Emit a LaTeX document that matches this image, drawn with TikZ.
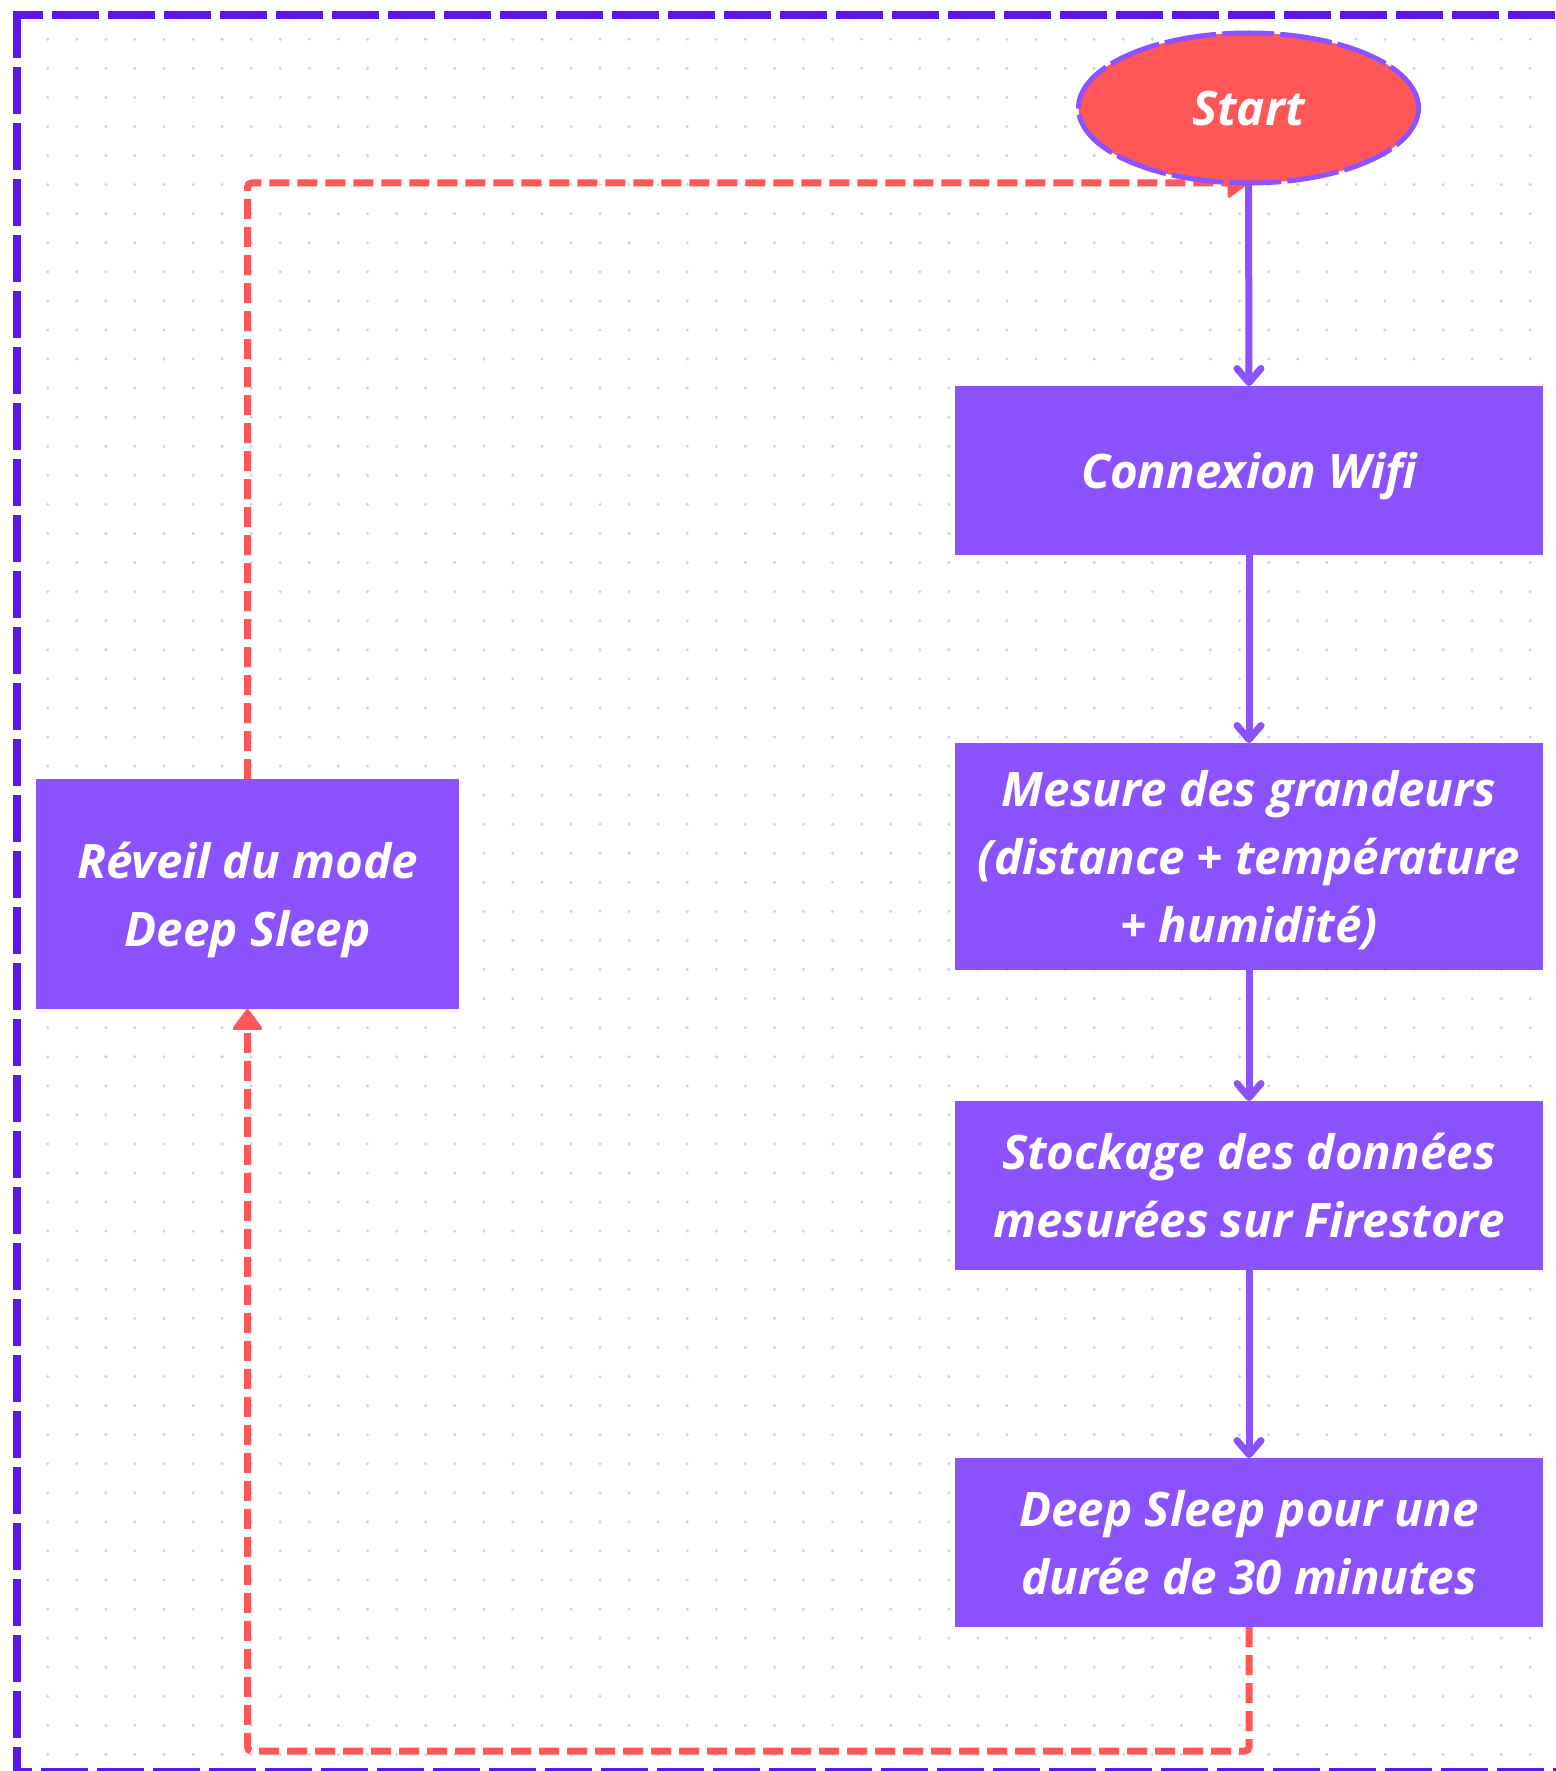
\documentclass[tikz,border=0pt]{standalone}
\usepackage{fontspec}
\setmainfont{Open Sans}
\usetikzlibrary{arrows.meta,shapes.geometric}
\definecolor{boxpurple}{HTML}{8C52FF}
\definecolor{framepurple}{HTML}{5E17EB}
\definecolor{startred}{HTML}{FF5757}
\definecolor{dotgray}{HTML}{D2D4DE}
\pgfdeclarelayer{bg}
\pgfdeclarelayer{conn}
\pgfsetlayers{bg,conn,main}
\begin{document}
\begin{tikzpicture}[x=1pt,y=-1pt,
  every node/.style={inner sep=0pt, outer sep=0pt},
  txt/.style={text=white, font=\fontsize{47.5}{68}\selectfont\bfseries\itshape, align=center, text depth=0pt},
  procbox/.style={txt, rectangle, fill=boxpurple, minimum width=588pt},
  startnode/.style={txt, ellipse, fill=startred, draw=boxpurple, line width=5pt, dash pattern=on 52pt off 6pt, minimum width=340pt, minimum height=150pt},
  flow/.style={draw=boxpurple, line width=7pt, -{Straight Barb[length=14pt,width=24pt,round]}},
  loopback/.style={draw=startred, line width=7pt, dash pattern=on 20pt off 8pt, rounded corners=4pt, -{Triangle[length=22pt,width=32pt,round,line width=3pt]}},
  frame/.style={draw=framepurple, line width=8pt}
]
\useasboundingbox (0,0) rectangle (1555,1771);

% nodes
\node[startnode] (start) at (1248.5,108) {Start};
\node[procbox, minimum height=169pt] (wifi) at (1249,470.5) {Connexion Wifi};
\node[procbox, minimum height=227pt] (mesure) at (1249,856.5) {Mesure des grandeurs\\(distance + température\\+ humidité)};
\node[procbox, minimum height=169pt] (stock) at (1249,1185.5) {Stockage des données\\mesurées sur Firestore};
\node[procbox, minimum height=169pt] (sleep) at (1249,1542.5) {Deep Sleep pour une\\durée de 30 minutes};
\node[txt, rectangle, fill=boxpurple, minimum width=423pt, minimum height=230pt] (reveil) at (247.5,894) {Réveil du mode\\Deep Sleep};
\coordinate (loopcorner) at (247.5,1751);

\begin{pgfonlayer}{bg}
\fill[white] (0,0) rectangle (1555,1771);
\foreach \i in {0,...,52}{\foreach \j in {0,...,60}{\fill[dotgray] ({47.7+29.07*\i},{39.3+29.07*\j}) circle[radius=1.7pt];}}
% frame
\draw[frame, dash pattern=on 47pt off 9pt] (17,11) -- (17,1790);
\draw[frame, dash pattern=on 47pt off 9pt, dash phase=17pt] (13,15) -- (1600,15);
\draw[frame, dash pattern=on 47pt off 9pt, dash phase=28pt] (13,1772) -- (1600,1772);
\end{pgfonlayer}

\begin{pgfonlayer}{conn}
\draw[flow] (start.south) -- (wifi.north);
\draw[flow] (wifi.south) -- (mesure.north);
\draw[flow] (mesure.south) -- (stock.north);
\draw[flow] (stock.south) -- (sleep.north);
\draw[loopback] (sleep.south) |- (loopcorner) -- (reveil.south);
\draw[loopback] (reveil.north) |- (start.south);
\end{pgfonlayer}
\end{tikzpicture}
\end{document}
